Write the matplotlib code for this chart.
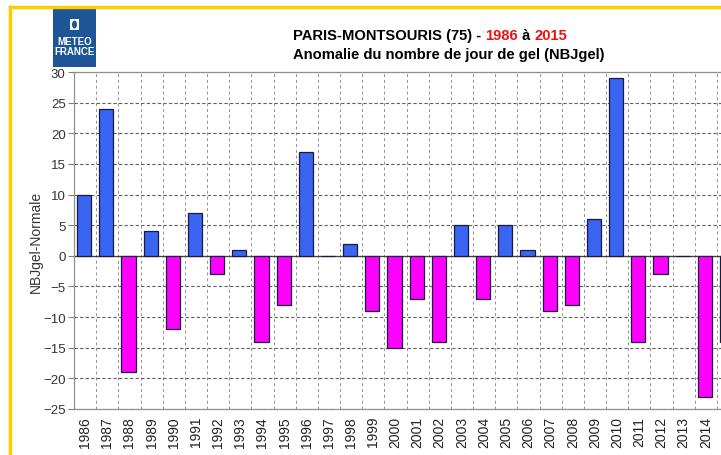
import numpy as np
import matplotlib.pyplot as plt
from matplotlib.patches import Rectangle, Ellipse
from matplotlib.lines import Line2D

plt.rcParams['font.family'] = ['Liberation Sans', 'DejaVu Sans']

years = list(range(1986, 2016))
anomalies = [10, 24, -19, 4, -12, 7, -3, 1, -14, -8,
             17, 0, 2, -9, -15, -7, -14, 5, -7, 5,
             1, -9, -8, 6, 29, -14, -3, 0, -23, -14]

fig = plt.figure(figsize=(7.21, 4.56), dpi=100)
W, H = 721, 456

# axes extends past the right edge like the cropped original
ax = fig.add_axes([74 / W, 1 - 410 / H, 665 / W, 337 / H])

x = np.arange(len(years))
vals = np.array(anomalies)
colors = np.where(vals >= 0, '#3a64f2', '#ff00ff')
ax.bar(x - 0.04, vals, width=0.64, color=colors, edgecolor='#1a1a40', linewidth=0.9, zorder=3)

ax.set_xlim(-0.5, len(years) - 0.5)
ax.set_ylim(-25, 30)
ax.set_yticks(range(-25, 31, 5))
ax.set_xticks(x)
ax.set_xticklabels([str(y) for y in years], rotation=90, fontsize=10, color='#222222')
ax.set_xticks(x[:-1] + 0.5, minor=True)
ax.tick_params(axis='x', which='both', length=0, pad=5)
ax.tick_params(axis='y', length=4, width=0.8, color='#808080', labelsize=9.5,
               labelcolor='#333333', pad=2)

ax.grid(True, axis='y', which='major', linestyle=(0, (3, 2)), color='#606060', linewidth=0.8, zorder=1)
ax.grid(True, axis='x', which='minor', linestyle=(0, (3, 3)), color='#909090', linewidth=0.7, zorder=1)
ax.axhline(0, color='#404040', linewidth=0.9, zorder=2)
for s in ax.spines.values():
    s.set_color('#909090')
    s.set_linewidth(0.9)

ax.set_ylabel('NBJgel-Normale', fontsize=10, color='#333333')
ax.yaxis.set_label_coords((43 - 74) / 665, 0.5)

# yellow frame
fig.add_artist(Line2D([10 / W, 10 / W], [0, 1 - 8 / H], color='#ffcc00', linewidth=2.5))
fig.add_artist(Line2D([10 / W, 1], [1 - 8 / H, 1 - 8 / H], color='#ffcc00', linewidth=2.5))

# logo
fig.add_artist(Rectangle((53 / W, 1 - 68 / H), 43 / W, 58 / H, transform=fig.transFigure,
                         facecolor='#1d5597', edgecolor='none'))
fig.add_artist(Rectangle((70 / W, 1 - 31 / H), 9 / W, 11 / H, transform=fig.transFigure,
                         facecolor='white', edgecolor='none'))
fig.add_artist(Ellipse((74.5 / W, 1 - 25.5 / H), 5 / W, 8 / H, transform=fig.transFigure,
                       facecolor='#1d5597', edgecolor='none'))
fig.text(74.5 / W, 1 - 47 / H, 'METEO\nFRANCE', color='white', fontsize=7,
         fontweight='bold', ha='center', va='center', linespacing=1.0)

# title with coloured years, left aligned
parts = [('PARIS-MONTSOURIS (75) - ', 'black'), ('1986', '#ee1111'),
         (' à ', 'black'), ('2015', '#ee1111')]
fig.canvas.draw()
r = fig.canvas.get_renderer()
texts = []
for s, c in parts:
    t = fig.text(0, 1 - 36 / H, s, color=c, fontsize=10.6, fontweight='bold', va='center')
    texts.append(t)
xpos = 293
for t in texts:
    t.set_x(xpos / W)
    xpos += t.get_window_extent(r).width
fig.text(293 / W, 1 - 55 / H, 'Anomalie du nombre de jour de gel (NBJgel)', fontsize=10.6,
         fontweight='bold', ha='left', va='center')

fig.savefig('out.png', dpi=100)
